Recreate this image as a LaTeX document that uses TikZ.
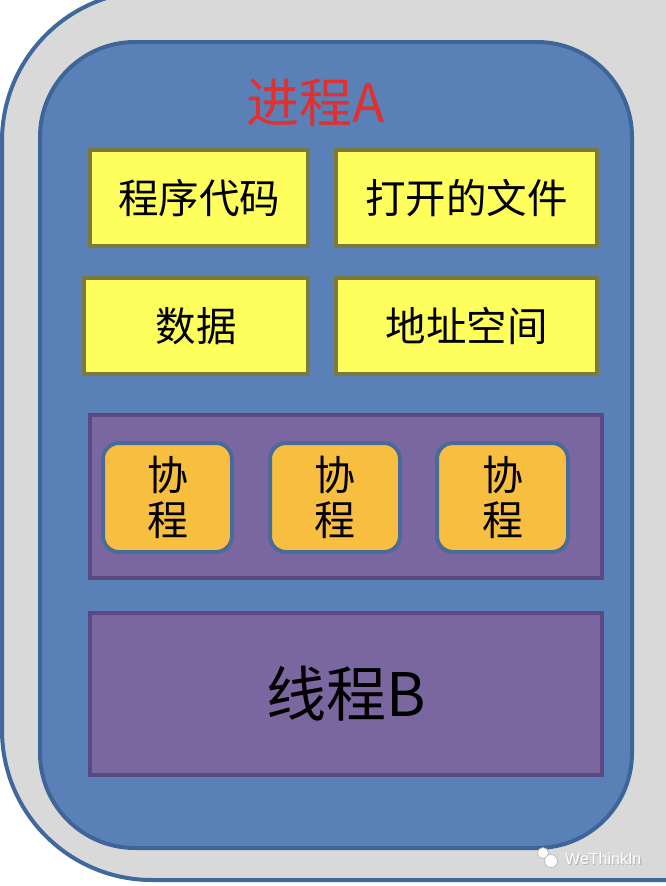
\documentclass[tikz,border=0pt]{standalone}
\usepackage{fontspec}
\setmainfont{Liberation Sans}
\newfontfamily\cjk{Noto Sans CJK SC}
\definecolor{outerfill}{HTML}{D9D9D9}
\definecolor{outerline}{HTML}{41689A}
\definecolor{bluefill}{HTML}{5A80B8}
\definecolor{blueline}{HTML}{3E6597}
\definecolor{yel}{HTML}{FEFE5C}
\definecolor{yelline}{HTML}{7A7A3C}
\definecolor{purp}{HTML}{7B67A0}
\definecolor{purpline}{HTML}{5B4A82}
\definecolor{orng}{HTML}{F8BE40}
\definecolor{orngline}{HTML}{4A6A9C}
\definecolor{titlered}{HTML}{E0302F}
\tikzset{
  yelbox/.style={draw=yelline, line width=4pt, fill=yel, inner sep=0pt, font=\cjk\fontsize{40.5}{44}\selectfont},
  coro/.style={draw=orngline, line width=4pt, fill=orng, rounded corners=16pt, inner sep=0pt, align=center, font=\cjk\fontsize{41}{45}\selectfont},
  purpbox/.style={draw=purpline, line width=4pt, fill=purp, inner sep=0pt}
}
\begin{document}
\begin{tikzpicture}[x=1pt,y=-1pt]
\useasboundingbox (0,0) rectangle (666,886);
\fill[white] (0,0) rectangle (666,886);
\begin{scope}
\clip (0,0) rectangle (666,886);
\path[draw=outerline, line width=4pt, fill=outerfill, rounded corners=150pt] (2,-9) rectangle (950,880);
\end{scope}
\node[draw=blueline, line width=4pt, fill=bluefill, rounded corners=95pt, minimum width=592pt, minimum height=806pt, inner sep=0pt] (proc) at (336,445) {};
\node[text=titlered, font=\cjk\fontsize{53}{56}\selectfont, inner sep=0pt] (title) at (316,103) {进程A};
\node[yelbox, minimum width=218pt, minimum height=96pt] (code) at (199,198) {程序代码};
\node[yelbox, minimum width=261pt, minimum height=96pt] (file) at (466.5,198) {打开的文件};
\node[yelbox, minimum width=224pt, minimum height=96pt] (data) at (196,326) {数据};
\node[yelbox, minimum width=261pt, minimum height=96pt] (addr) at (466.5,326) {地址空间};
\node[purpbox, minimum width=512pt, minimum height=163pt] (cont) at (346,496.5) {};
\node[coro, minimum width=129pt, minimum height=109pt] (c1) at (167.5,497.5) {协\\程};
\node[coro, minimum width=130pt, minimum height=109pt] (c2) at (335,497.5) {协\\程};
\node[coro, minimum width=131pt, minimum height=109pt] (c3) at (502.5,497.5) {协\\程};
\node[purpbox, minimum width=512pt, minimum height=162pt, font=\cjk\fontsize{60}{64}\selectfont] (thread) at (346,694) {线程B};
\node[text=gray!60, font=\fontsize{16}{18}\selectfont, inner sep=0pt, anchor=west] at (565.8,859.8) {WeThinkIn};
\node[text=white, font=\fontsize{16}{18}\selectfont, inner sep=0pt, anchor=west] (wm) at (565,859) {WeThinkIn};
\fill[white, draw=gray!60, line width=0.6pt] (543,853) circle (5.5pt);
\fill[white, draw=gray!60, line width=0.6pt] (551,861) circle (6.5pt);
\end{tikzpicture}
\end{document}
